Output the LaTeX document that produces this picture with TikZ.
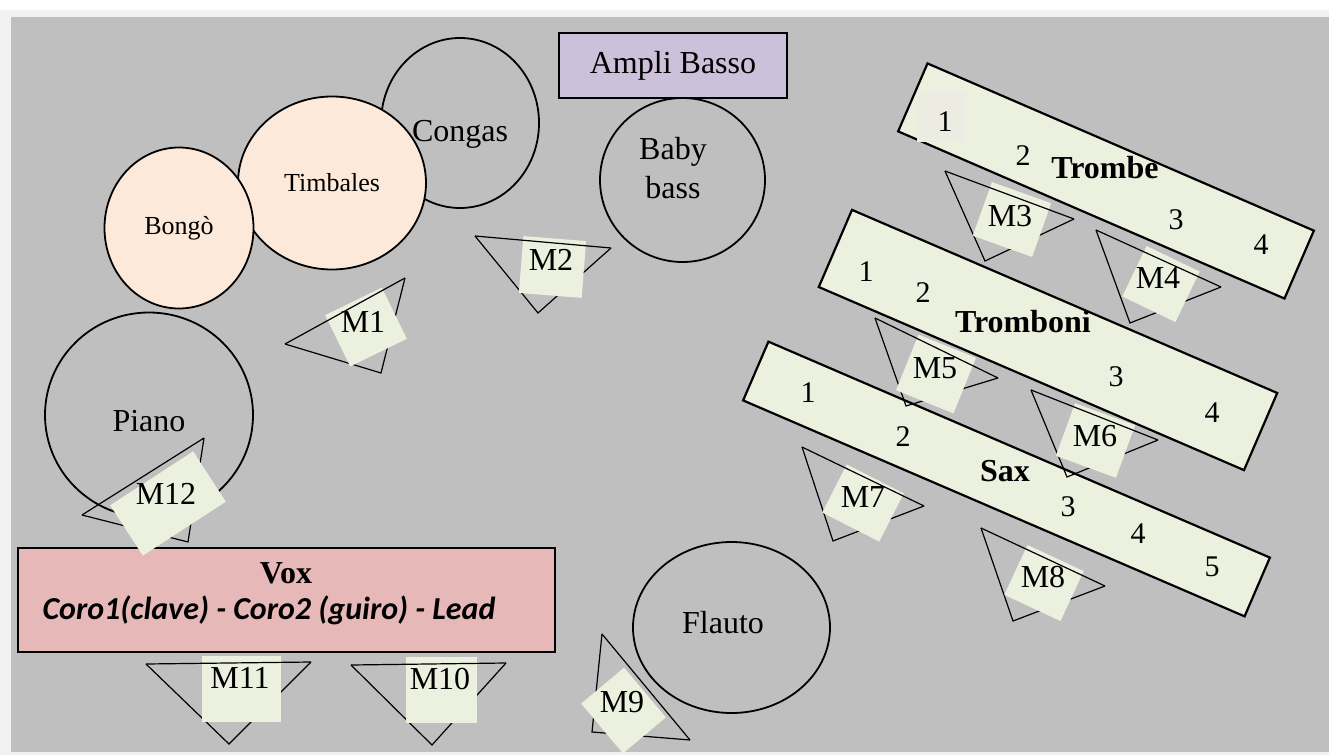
\documentclass[tikz,border=0pt]{standalone}
\usepackage{fontspec}
\setmainfont{Liberation Serif}
\newfontfamily\corofont{Carlito}
\usetikzlibrary{shapes.geometric}
\definecolor{stage}{HTML}{BFBFBF}
\definecolor{frame}{HTML}{F2F2F2}
\definecolor{padgreen}{HTML}{EBF1DE}
\definecolor{skin}{HTML}{FDE9D9}
\definecolor{ampli}{HTML}{CCC0DA}
\definecolor{voxred}{HTML}{E6B8B7}
\definecolor{onebox}{HTML}{ECECE2}
\begin{document}
\begin{tikzpicture}[x=0.5pt,y=-0.5pt,
  every node/.style={inner sep=0pt,font=\fontsize{16}{19.5}\selectfont},
  drum/.style={ellipse,draw,line width=0.9pt},
  smalldrum/.style={drum,fill=skin,font=\fontsize{13}{15}\selectfont},
  riser/.style={rectangle,draw,fill=padgreen,line width=1.1pt},
  pad/.style={rectangle,fill=padgreen},
  cone/.style={line width=0.6pt},
  num/.style={font=\fontsize{15}{17}\selectfont},
  riserlabel/.style={font=\fontsize{16}{19}\selectfont\bfseries}]
  \fill[white] (0,0) rectangle (1329,755);
  \fill[frame] (0,10) rectangle (1329,755);
  \fill[stage] (11,17) rectangle (1329,752);
  \useasboundingbox (0,0) rectangle (1329,755);

  \node[drum,minimum width=79pt,minimum height=85pt] (congas) at (460,123) {};
  \node (congasname) at (460,134) {Congas};
  \node[smalldrum,minimum width=94pt,minimum height=86.5pt] (timbales) at (332,183) {Timbales};
  \node[smalldrum,minimum width=74.5pt,minimum height=80.5pt] (bongo) at (179,228) {Bongò};
  \node[drum,minimum width=104pt,minimum height=102.5pt] (piano) at (149,415) {};
  \node (pianoname) at (149,421) {Piano};
  \node[drum,minimum width=82.5pt,minimum height=82pt] (bass) at (682.5,180) {};
  \node[align=center] (bassname) at (673,168) {Baby\\bass};
  \node[drum,minimum width=98.5pt,minimum height=85.5pt] (flauto) at (731.5,627.5) {};
  \node (flautoname) at (723,623) {Flauto};
  \node[draw,fill=ampli,line width=0.8pt,minimum width=114pt,minimum height=32.5pt] (ampli) at (673,65.5) {Ampli Basso};
  \node[draw,fill=voxred,line width=0.8pt,minimum width=268.5pt,minimum height=52pt] (vox) at (286.5,600) {};
  \node[font=\fontsize{16}{19}\selectfont\bfseries] (voxname) at (286,573) {Vox};
  \node[font=\fontsize{16}{19}\corofont\bfseries\itshape] (coro) at (269,610) {Coro1(clave) - Coro2 (guiro) - Lead};

  \node[riser,rotate=-23.4,minimum width=210.5pt,minimum height=37pt] (trombe) at (1106,181) {};
  \node[riser,rotate=-23.3,minimum width=231.5pt,minimum height=42pt] (tromboni) at (1048,340) {};
  \node[riser,rotate=-23.3,minimum width=273pt,minimum height=32pt] (sax) at (1006.5,479) {};
  \node[fill=onebox,minimum width=24pt,minimum height=25pt] (trombebox) at (941,117) {};
  \node[riserlabel] (trombename) at (1105,168) {Trombe};
  \node[riserlabel] (trombonename) at (1023,322) {Tromboni};
  \node[riserlabel] (saxname) at (1005,471) {Sax};
  \foreach \n/\p in {{1/(945,122)},{2/(1023,156)},{3/(1176,220)},{4/(1261,245)}}
    \node[num] (trombe\n) at \p {\n};
  \foreach \n/\p in {{1/(866,272)},{2/(923,293)},{3/(1116,377)},{4/(1212,413)}}
    \node[num] (tromboni\n) at \p {\n};
  \foreach \n/\p in {{1/(808,393)},{2/(903,437)},{3/(1068,507)},{4/(1138,534)},{5/(1212,567)}}
    \node[num] (sax\n) at \p {\n};

  \foreach \m/\a/\b/\c/\p/\w/\h/\r/\t in {
    {1/(285,344)/(405,278)/(381,373)/(366,327)/31.5/28.5/26/(363,322)},
    {2/(475,236)/(611,248)/(538,313)/(552.5,267)/31.5/28.5/-4.5/(551,260)},
    {3/(945,171)/(1074,219)/(985,261)/(1012,219.5)/31.5/28.5/-19.6/(1010,216)},
    {4/(1096,230)/(1221,287)/(1130,323)/(1161,284)/29.5/28/-25.7/(1158,278)},
    {5/(875,318)/(998,378)/(906,406)/(936,374)/31/30/-22/(935,368)},
    {6/(1031,390)/(1158,440)/(1067,477)/(1095.5,440.5)/32/28/-20/(1095,436)},
    {7/(802,447)/(924,506)/(833,541)/(863,503)/32/27/-27/(863,497)},
    {8/(981,528)/(1105,586)/(1013,621)/(1044,583)/31/27.5/-25/(1043,577)},
    {9/(602,634)/(690,740)/(592,732)/(623.5,710.5)/28/32.5/40/(622,702)},
    {10/(351,665)/(506,663)/(432,745)/(441.5,690)/35.5/33/0/(440,679)},
    {11/(146,664)/(311,662)/(229,744)/(241.5,689)/39.5/33/0/(240,678)},
    {12/(82,515)/(204,438)/(188,542)/(168,503.5)/49.5/30/33/(166,494)}}{
    \draw[cone] \a -- \c -- \b;
    \node[pad,rotate=\r,minimum width=\w pt,minimum height=\h pt] (pad\m) at \p {};
    \draw[cone] \a -- \b;
    \node (mic\m) at \t {M\m};
  }
\end{tikzpicture}
\end{document}
